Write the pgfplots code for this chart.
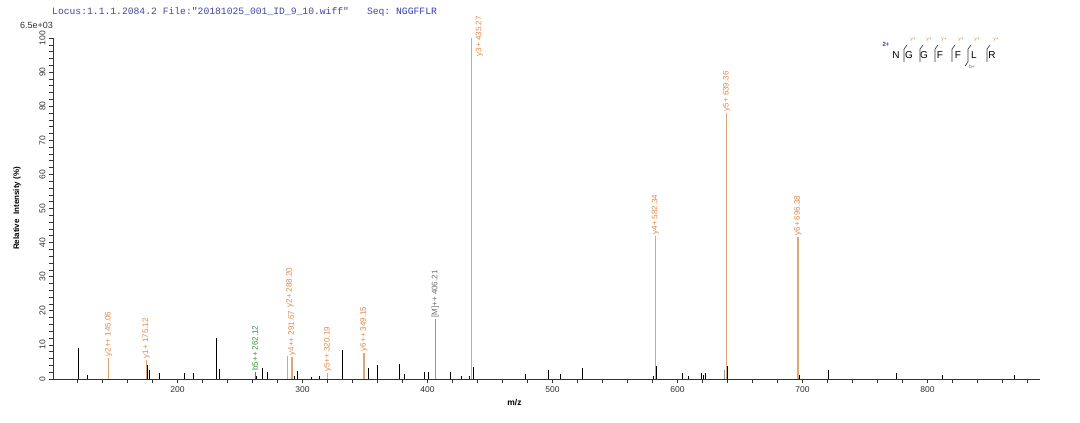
\documentclass[border=0pt]{standalone}
\usepackage{fontspec}
\setmainfont{Liberation Sans}
\setmonofont{Liberation Mono}
\usepackage{pgfplots}
\pgfplotsset{compat=1.18}
\definecolor{ionline}{RGB}{222,165,118}
\definecolor{iontxt}{RGB}{230,135,70}
\definecolor{bgreen}{RGB}{50,150,50}
\definecolor{mgray}{RGB}{150,150,150}
\definecolor{mtxt}{RGB}{110,110,110}
\definecolor{titleblue}{RGB}{70,70,160}
\definecolor{seqblue}{RGB}{55,55,175}
\definecolor{axgray}{RGB}{50,50,50}
\begin{document}
\begin{tikzpicture}
\begin{axis}[
  at={(0,0)}, anchor=south west,
  scale only axis, width=987pt, height=341pt,
  xmin=100.5, xmax=890, ymin=0, ymax=100,
  axis lines*=left,
  axis line style={axgray, line width=0.7pt},
  clip=false,
  tick align=outside,
  major tick length=4pt, minor tick length=4pt,
  every tick/.style={axgray, line width=0.6pt},
  xtick={200,300,...,800},
  minor xtick={120,140,...,880},
  ytick={0,10,...,100},
  minor y tick num=4,
  /pgf/number format/assume math mode=true,
  xticklabel style={font=\fontsize{8.5}{9}\selectfont, text=axgray},
  yticklabel style={rotate=90, anchor=south, font=\fontsize{8.5}{9}\selectfont, text=axgray},
]
% unannotated peaks
\addplot[ycomb, black, line width=0.9pt, no marks] coordinates {
(120.8,9.2) (128,1.3) (176.1,4.0) (177.3,2.6) (185.6,1.8) (205.9,1.8) (212.5,1.8)
(231,12.0) (233.6,2.8) (263.5,1.0) (268,3.1) (271.7,2.0) (293.5,1.0) (295.7,2.4)
(307,0.6) (314,0.8) (331.7,8.5) (349,2.0) (352.8,3.1) (359.7,4.1) (377.6,4.5)
(381.6,1.4) (397.9,2.0) (400.8,2.0) (418.4,2.0) (427,1.0) (433.6,1.0) (436.5,3.6)
(478.7,1.6) (496.5,2.6) (506.5,1.5) (524.3,3.2) (581,1.0) (583.1,3.9) (604.3,1.7)
(609,0.8) (619.2,1.8) (620.5,1.2) (622.1,1.7) (640.3,3.9) (697.6,1.3)
(720.5,2.5) (775.2,1.8) (811.7,1.1) (869.6,1.1)
};
\addplot[ycomb, mgray, line width=0.9pt, no marks] coordinates {(637.3,2.6)};
% y ions
\addplot[ycomb, ionline, line width=1.3pt, no marks] coordinates {
(145.06,6.2) (175.12,5.6) (288.20,6.8) (291.67,6.5) (320.19,1.7) (349.15,7.7)
(435.27,100) (582.34,41.9) (639.36,78) (696.38,41.6)
};
% b ion
\addplot[ycomb, bgreen, line width=1.0pt, no marks] coordinates {(262.12,2.0)};
% precursor
\addplot[ycomb, mgray, line width=1.0pt, no marks] coordinates {(406.21,17.5)};

\tikzset{lbl/.style={rotate=90, anchor=west, inner sep=1.5pt, font=\fontsize{8}{9}\selectfont}}
\node[lbl, text=iontxt] at (axis cs:145.06,6.2) {y2++ 145.06};
\node[lbl, text=iontxt] at (axis cs:175.12,5.6) {y1+ 175.12};
\node[lbl, text=bgreen] at (axis cs:262.12,2.0) {b5++ 262.12};
\node[lbl, text=iontxt] at (axis cs:291.67,6.5) {y4++ 291.67};
\node[lbl, text=iontxt] at (axis cs:290.0,20.5) {y2+ 288.20};
\node[lbl, text=iontxt] at (axis cs:320.19,1.7) {y5++ 320.19};
\node[lbl, text=iontxt] at (axis cs:349.15,7.7) {y6++ 349.15};
\node[lbl, text=mtxt] at (axis cs:406.21,17.5) {[M]++ 406.21};
\node[lbl, text=iontxt] at (axis cs:441.5,94.2) {y3+ 435.27};
\node[lbl, text=iontxt] at (axis cs:582.34,41.9) {y4+ 582.34};
\node[lbl, text=iontxt] at (axis cs:639.36,78) {y5+ 639.36};
\node[lbl, text=iontxt] at (axis cs:696.38,41.6) {y6+ 696.38};

% titles and axis labels
\node[anchor=west, inner sep=0pt, text=titleblue, font=\ttfamily\fontsize{9.7}{11}\selectfont]
  at ([yshift=26pt, xshift=-1pt]rel axis cs:0,1)
  {Locus:1.1.1.2084.2 File:"20181025\_001\_ID\_9\_10.wiff"\hspace{18pt}Seq: \textcolor{seqblue}{NGGFFLR}};
\node[anchor=east, inner sep=0pt, text=axgray, font=\fontsize{9}{10}\selectfont]
  at ([yshift=13pt]rel axis cs:0,1) {6.5e+03};
\node[rotate=90, inner sep=0pt, font=\bfseries\fontsize{8}{9}\selectfont]
  at ([xshift=-36pt]rel axis cs:0,0.5) {Relative\ \ Intensity (\%)};
\node[inner sep=0pt, font=\bfseries\fontsize{8.5}{9}\selectfont]
  at ([yshift=-24pt]axis cs:469.6,0) {m/z};
\end{axis}

% peptide sequence annotation (pixel-based annotation layout)
\begin{scope}[font=\fontsize{10}{11}\selectfont]
\node at (843pt,324pt) {N};
\node at (856pt,324pt) {G};
\node at (871pt,324pt) {G};
\node at (887pt,324pt) {F};
\node at (905pt,324pt) {F};
\node at (921pt,324pt) {L};
\node at (939pt,324pt) {R};
\node[text=seqblue, font=\bfseries\fontsize{6}{7}\selectfont, inner sep=0pt] at (833pt,335pt) {2+};
\foreach \bx in {851,867,882,899,915,934} {
  \draw[black!80, line width=0.6pt] (\bx pt,317pt) -- (\bx pt,330pt) -- (\bx pt+3pt,334pt);
  \node[text=iontxt, font=\fontsize{5}{6}\selectfont, inner sep=0pt] at (\bx pt+9pt,339pt) {y+};
}
\draw[black!80, line width=0.6pt] (915pt,317pt) -- (912pt,313pt);
\node[text=bgreen, font=\fontsize{5}{6}\selectfont, inner sep=0pt] at (919pt,312pt) {b+};
\end{scope}

\pgfresetboundingbox
\path (-53pt,-44pt) rectangle (1027pt,379pt);
\end{tikzpicture}
\end{document}
